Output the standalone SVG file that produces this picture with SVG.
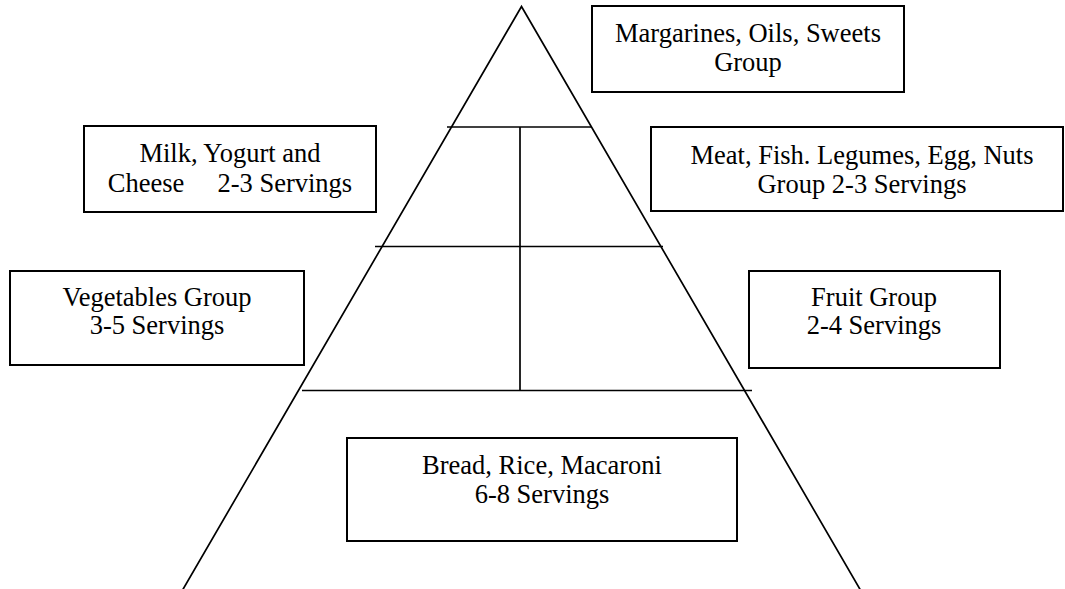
<svg xmlns="http://www.w3.org/2000/svg" width="1065" height="589" viewBox="0 0 1065 589">
<style>
.box{fill:#fff;stroke:#000;stroke-width:2}
.ln{fill:none;stroke:#000;stroke-width:1.7}
text{font-family:"Liberation Serif","Times New Roman",serif;font-size:26.5px;fill:#000;text-anchor:middle;white-space:pre}
</style>
<rect width="1065" height="589" fill="#fff"/>
<g id="connectors">
<polyline class="ln" points="182,591 521.5,6.5 861,591"/>
<line class="ln" x1="447" y1="127" x2="592" y2="127"/>
<line class="ln" x1="375" y1="246.5" x2="663" y2="246.5"/>
<line class="ln" x1="302" y1="390.5" x2="752" y2="390.5"/>
<line class="ln" x1="520" y1="127" x2="520" y2="390.5"/>
</g>
<g id="node-sweets">
<rect class="box" x="592" y="6" width="312" height="86"/>
<text x="748" y="42">Margarines, Oils, Sweets</text>
<text x="748" y="71">Group</text>
</g>
<g id="node-meat">
<rect class="box" x="651" y="127" width="412" height="84"/>
<text x="862" y="164">Meat, Fish. Legumes, Egg, Nuts</text>
<text x="862" y="193">Group 2-3 Servings</text>
</g>
<g id="node-milk">
<rect class="box" x="84" y="126" width="292" height="86"/>
<text x="230" y="162">Milk, Yogurt and</text>
<text x="230" y="192">Cheese     2-3 Servings</text>
</g>
<g id="node-vegetables">
<rect class="box" x="10" y="271" width="294" height="94"/>
<text x="157" y="306">Vegetables Group</text>
<text x="157" y="334">3-5 Servings</text>
</g>
<g id="node-fruit">
<rect class="box" x="749" y="271" width="251" height="97"/>
<text x="874" y="306">Fruit Group</text>
<text x="874" y="334">2-4 Servings</text>
</g>
<g id="node-bread">
<rect class="box" x="347" y="438" width="390" height="103"/>
<text x="542" y="474">Bread, Rice, Macaroni</text>
<text x="542" y="503">6-8 Servings</text>
</g>
</svg>
